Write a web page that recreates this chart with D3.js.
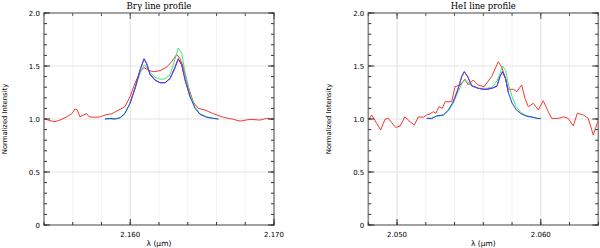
<!DOCTYPE html>
<html>
<head>
<meta charset="utf-8">
<script src="https://cdn.jsdelivr.net/npm/d3@7"></script>
<style>
body { margin: 0; background: #fff; }
svg text { font-family: "DejaVu Sans", sans-serif; fill: #000; }
</style>
</head>
<body>
<svg id="chart" width="600" height="248"></svg>
<script>
// ---- Br gamma panel data ----
const brObsX = [2.15407,2.15442,2.15477,2.15511,2.15558,2.15593,2.15616,2.15632,2.15650,2.15678,2.15697,2.15715,2.15755,2.15790,2.15831,2.15871,2.15906,2.15963,2.15998,2.16033,2.16068,2.16096,2.16126,2.16160,2.16207,2.16254,2.16288,2.16323,2.16346,2.16369,2.16404,2.16439,2.16473,2.16520,2.16578,2.16647,2.16717,2.16764,2.16833,2.16903,2.16949,2.16995];
const brObsY = [1.00,0.984,0.975,0.99,1.02,1.05,1.094,1.085,1.02,1.04,1.05,1.02,1.016,1.02,1.04,1.05,1.075,1.116,1.21,1.337,1.446,1.485,1.46,1.446,1.456,1.49,1.54,1.61,1.57,1.49,1.30,1.16,1.10,1.085,1.05,1.016,0.997,0.98,0.997,0.99,1.006,0.997];
const brModX = [2.15824,2.15859,2.15894,2.15929,2.15963,2.15998,2.16033,2.16068,2.16096,2.16114,2.16137,2.16172,2.16207,2.16242,2.16277,2.16311,2.16334,2.16358,2.16381,2.16416,2.16451,2.16485,2.16532,2.16578,2.16613];
const brBlueY = [1.0,1.006,1.0,1.012,1.054,1.148,1.29,1.46,1.57,1.525,1.425,1.37,1.342,1.342,1.384,1.49,1.57,1.51,1.37,1.21,1.10,1.044,1.016,1.006,1.0];
const brPurpleY = [1.0,1.006,1.0,1.012,1.054,1.148,1.29,1.46,1.565,1.52,1.42,1.365,1.342,1.342,1.38,1.48,1.565,1.51,1.37,1.21,1.10,1.044,1.016,1.006,1.0];
const brGreenY = [1.0,1.0,1.0,1.01,1.05,1.145,1.28,1.43,1.51,1.49,1.44,1.395,1.375,1.378,1.42,1.56,1.67,1.62,1.44,1.24,1.11,1.05,1.02,1.006,1.0];

// ---- HeI panel data ----
const heObsX = [2.04800,2.04824,2.04858,2.04886,2.04916,2.04939,2.04963,2.04991,2.05021,2.05055,2.05090,2.05120,2.05148,2.05183,2.05206,2.05229,2.05252,2.05269,2.05292,2.05315,2.05334,2.05380,2.05403,2.05438,2.05473,2.05496,2.05530,2.05565,2.05606,2.05658,2.05704,2.05728,2.05751,2.05774,2.05809,2.05832,2.05867,2.05890,2.05913,2.05948,2.05983,2.06017,2.06052,2.06076,2.06122,2.06157,2.06191,2.06226,2.06254,2.06296,2.06330,2.06365,2.06400];
const heObsY = [0.99,1.038,0.96,0.896,0.997,1.006,0.965,0.92,0.934,1.02,0.975,0.943,1.02,1.016,1.038,1.047,1.069,1.054,1.116,1.10,1.163,1.163,1.305,1.32,1.375,1.32,1.368,1.32,1.305,1.40,1.54,1.49,1.40,1.28,1.28,1.258,1.32,1.195,1.116,1.148,1.085,1.173,1.069,1.006,1.006,1.02,1.006,0.934,1.054,1.038,1.006,0.849,0.99];
const heModX = [2.05206,2.05241,2.05276,2.05322,2.05357,2.05391,2.05422,2.05450,2.05468,2.05491,2.05519,2.05565,2.05600,2.05624,2.05661,2.05695,2.05716,2.05734,2.05755,2.05774,2.05800,2.05828,2.05862,2.05904,2.05939,2.05974,2.05999];
const heBlueY = [1.006,1.003,1.03,1.038,1.085,1.163,1.274,1.40,1.446,1.40,1.314,1.29,1.28,1.28,1.29,1.31,1.40,1.446,1.38,1.25,1.15,1.09,1.05,1.025,1.018,1.006,1.003];
const hePurpleY = [1.006,1.003,1.03,1.038,1.085,1.163,1.274,1.40,1.446,1.40,1.314,1.29,1.28,1.28,1.29,1.31,1.40,1.446,1.38,1.25,1.15,1.09,1.05,1.025,1.018,1.006,1.003];
const heGreenY = [1.006,1.01,1.025,1.035,1.075,1.15,1.25,1.33,1.365,1.35,1.31,1.29,1.29,1.29,1.30,1.36,1.43,1.50,1.46,1.33,1.21,1.12,1.06,1.03,1.02,1.006,1.003];

const yTicks = [0, 0.5, 1.0, 1.5, 2.0];
const yTickLabels = ["0", "0.5", "1.0", "1.5", "2.0"];

const colors = { red: "#f03a32", green: "#3ee878", blue: "#2440d8", purple: "#7a34e4" };

const svg = d3.select("#chart");

function drawPanel(opts) {
    const x = d3.scaleLinear().domain(opts.xDomain).range([opts.left, opts.right]);
    const y = d3.scaleLinear().domain([0, 2]).range([225, 13]);
    const g = svg.append("g");

    // minor + major grid
    const xMinor = d3.range(opts.xDomain[0], opts.xDomain[1] + 1e-9, 0.002);
    const xMajor = opts.xMajor;
    const yMinor = d3.range(0, 2.0001, 0.1);
    g.selectAll(".gxm").data(xMinor).join("line")
        .attr("x1", d => x(d)).attr("x2", d => x(d)).attr("y1", y(0)).attr("y2", y(2))
        .attr("stroke", "#f3f3f3").attr("stroke-width", 1);
    g.selectAll(".gxM").data(xMajor).join("line")
        .attr("x1", d => x(d)).attr("x2", d => x(d)).attr("y1", y(0)).attr("y2", y(2))
        .attr("stroke", "#e4e4e4").attr("stroke-width", 1);
    g.selectAll(".gyM").data([0.5, 1.0, 1.5]).join("line")
        .attr("x1", opts.left).attr("x2", opts.right).attr("y1", d => y(d)).attr("y2", d => y(d))
        .attr("stroke", "#e4e4e4").attr("stroke-width", 1);

    // lines: observed first, models on top
    const line = d3.line().x(d => x(d[0])).y(d => y(d[1]));
    const series = [
        [opts.obsX, opts.obsY, colors.red],
        [opts.modX, opts.greenY, colors.green],
        [opts.modX, opts.blueY, colors.blue],
        [opts.modX, opts.purpleY, colors.purple, opts.purpleRange]
    ];
    series.forEach(s => {
        let pts = s[0].map((v, i) => [v, s[1][i]]);
        if (s[3]) pts = pts.filter(p => p[0] >= s[3][0] && p[0] <= s[3][1]);
        g.append("path").datum(pts).attr("d", line)
            .attr("fill", "none").attr("stroke", s[2]).attr("stroke-width", 1);
    });

    // frame
    const axisColor = "#8a8a8a";
    g.append("rect").attr("x", opts.left).attr("y", y(2)).attr("width", opts.right - opts.left)
        .attr("height", y(0) - y(2)).attr("fill", "none").attr("stroke", axisColor).attr("stroke-width", 1.6);

    // x ticks (bottom and top)
    g.selectAll(".xt").data(xMinor).join("line")
        .attr("x1", d => x(d)).attr("x2", d => x(d)).attr("y1", y(0)).attr("y2", y(0) - 3)
        .attr("stroke", "#333").attr("stroke-width", 1);
    g.selectAll(".xtM").data(xMajor).join("line")
        .attr("x1", d => x(d)).attr("x2", d => x(d)).attr("y1", y(0)).attr("y2", y(0) - 6)
        .attr("stroke", "#333").attr("stroke-width", 1);
    g.selectAll(".xtt").data(xMinor).join("line")
        .attr("x1", d => x(d)).attr("x2", d => x(d)).attr("y1", y(2)).attr("y2", y(2) + 3)
        .attr("stroke", "#555").attr("stroke-width", 1);
    g.selectAll(".xttM").data(xMajor).join("line")
        .attr("x1", d => x(d)).attr("x2", d => x(d)).attr("y1", y(2)).attr("y2", y(2) + 6)
        .attr("stroke", "#555").attr("stroke-width", 1);

    // y ticks (left and right)
    [[opts.left, 1], [opts.right, -1]].forEach(([x0, dir]) => {
        g.selectAll(null).data(yMinor).join("line")
            .attr("x1", x0).attr("x2", x0 + dir * 3).attr("y1", d => y(d)).attr("y2", d => y(d))
            .attr("stroke", "#333").attr("stroke-width", 1);
        g.selectAll(null).data(yTicks).join("line")
            .attr("x1", x0).attr("x2", x0 + dir * 6).attr("y1", d => y(d)).attr("y2", d => y(d))
            .attr("stroke", "#333").attr("stroke-width", 1);
    });

    // tick labels
    g.selectAll(".yl").data(yTicks).join("text")
        .attr("x", opts.left - 4).attr("y", d => y(d) + 2.5)
        .attr("text-anchor", "end").attr("font-size", 7)
        .text((d, i) => yTickLabels[i]);
    g.selectAll(".xl").data(xMajor).join("text")
        .attr("x", d => x(d)).attr("y", 237)
        .attr("text-anchor", "middle").attr("font-size", 7)
        .text(d => d3.format(".3f")(d));

    // titles
    const cx = (opts.left + opts.right) / 2;
    g.append("text").attr("x", cx).attr("y", 9).attr("text-anchor", "middle")
        .attr("font-size", 8.5).style("font-family", "DejaVu Serif, serif").text(opts.title);
    g.append("text").attr("x", cx).attr("y", 246).attr("text-anchor", "middle")
        .attr("font-size", 7.5).text("λ (μm)");
    g.append("text").attr("transform", `translate(${opts.yLabelX},119) rotate(-90)`)
        .attr("text-anchor", "middle").attr("font-size", 6.8).text("Normalized Intensity");
}

drawPanel({
    left: 44, right: 274, xDomain: [2.154, 2.170], xMajor: [2.160, 2.170],
    obsX: brObsX, obsY: brObsY, modX: brModX,
    blueY: brBlueY, greenY: brGreenY, purpleY: brPurpleY, purpleRange: [2.1597, 2.1645],
    title: "Brγ line profile", yLabelX: 7
});
drawPanel({
    left: 368.3, right: 598.3, xDomain: [2.048, 2.064], xMajor: [2.050, 2.060],
    obsX: heObsX, obsY: heObsY, modX: heModX,
    blueY: heBlueY, greenY: heGreenY, purpleY: hePurpleY, purpleRange: [2.0539, 2.0579],
    title: "HeI line profile", yLabelX: 331
});
</script>
</body>
</html>
